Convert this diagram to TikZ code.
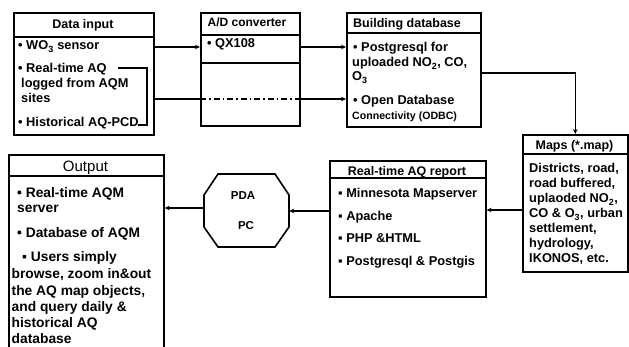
\documentclass[tikz,border=0pt]{standalone}
\usepackage{fontspec}
\setmainfont{Liberation Sans}
\usetikzlibrary{arrows.meta}
\begin{document}
\begin{tikzpicture}[x=1pt,y=-1pt,
  box/.style={draw,line width=1.6pt,rectangle,inner sep=0pt,anchor=north west},
  rule/.style={line width=1.2pt},
  link/.style={line width=1.2pt},
  arr/.style={link,-{Stealth[length=5pt,width=4.5pt]}},
  txt/.style={anchor=base west,inner sep=0pt,font=\fontsize{12.8}{15}\selectfont\bfseries},
  hd/.style={anchor=base,inner sep=0pt,font=\fontsize{12.5}{15}\selectfont\bfseries},
  otxt/.style={anchor=base west,inner sep=0pt,font=\fontsize{13.8}{16}\selectfont\bfseries},
]
\useasboundingbox[fill=white] (0,0) rectangle (629,347);

% ---------- Data input ----------
\node[box,minimum width=140pt,minimum height=122pt] (datain) at (13,12) {};
\draw[rule] (13,37) -- (153,37);
\node[hd] (dinH) at (83,28.5) {Data input};
\node[txt] (din1) at (18,50) {• WO\textsubscript{3} sensor};
\node[txt] (din2) at (18,73) {• Real-time AQ};
\node[txt] (din2b) at (21,88) {logged from AQM};
\node[txt] (din2c) at (21,103) {sites};
\node[txt] (din3) at (18,127) {• Historical AQ-PCD};
\coordinate (brA) at (118,68);
\coordinate (brC) at (147,125);
\coordinate (brD) at (138,125);
\draw[link] (brA) -| (brC) -- (brD);

% ---------- A/D converter ----------
\node[box,minimum width=99pt,minimum height=113pt] (adc) at (200,12) {};
\draw[rule] (200,35) -- (299,35);
\draw[rule] (200,63) -- (299,63);
\node[hd,font=\fontsize{12}{14}\selectfont\bfseries] (adcH) at (247,27) {A/D converter};
\node[txt] (adc1) at (207,48) {• QX108};

% ---------- Building database ----------
\node[box,minimum width=134pt,minimum height=114pt] (bdb) at (346,12) {};
\draw[rule] (346,33) -- (480,33);
\node[txt,font=\fontsize{12.5}{15}\selectfont\bfseries] (bdbH) at (353,28) {Building database};
\node[txt] (bdb1) at (353,52) {• Postgresql for};
\node[txt] (bdb1b) at (352,67) {uploaded NO\textsubscript{2}, CO,};
\node[txt] (bdb1c) at (352,81) {O\textsubscript{3}};
\node[txt] (bdb2) at (353,105) {• Open Database};
\node[txt,font=\fontsize{10.6}{13}\selectfont\bfseries] (bdb2b) at (352,120) {Connectivity (ODBC)};

% ---------- Maps ----------
\node[box,minimum width=105pt,minimum height=137pt] (maps) at (522,134) {};
\draw[rule] (522,154) -- (627,154);
\node[hd] (mapsH) at (574.5,150) {Maps (*.map)};
\node[txt] (m1) at (529,173) {Districts, road,};
\node[txt] (m2) at (529,188) {road buffered,};
\node[txt] (m3) at (529,203) {uplaoded NO\textsubscript{2},};
\node[txt] (m4) at (529,218) {CO \& O\textsubscript{3}, urban};
\node[txt] (m5) at (529,233) {settlement,};
\node[txt] (m6) at (529,248) {hydrology,};
\node[txt] (m7) at (529,263) {IKONOS, etc.};

% ---------- Real-time AQ report ----------
\node[box,minimum width=156pt,minimum height=136pt] (rep) at (329,160) {};
\draw[rule] (329,178) -- (485,178);
\node[hd] (repH) at (407,176) {Real-time AQ report};
\node[txt] (r1) at (338,198) {▪ Minnesota Mapserver};
\node[txt] (r2) at (338,221) {▪ Apache};
\node[txt] (r3) at (338,243) {▪ PHP \&HTML};
\node[txt] (r4) at (338,266) {▪ Postgresql \& Postgis};

% ---------- PDA / PC ----------
\node[minimum width=85pt,minimum height=73pt,inner sep=0pt] (pda) at (246.5,210.5) {};
\draw[line width=1.6pt] (218,174) -- (275,174) -- (289,195) -- (289,227) -- (275,247)
  -- (218,247) -- (204,227) -- (204,195) -- cycle;
\node[hd,font=\fontsize{11.5}{14}\selectfont\bfseries] (pdaT) at (243,200) {PDA};
\node[hd,font=\fontsize{11.5}{14}\selectfont\bfseries] (pcT) at (246,230) {PC};

% ---------- Output ----------
\node[box,minimum width=155pt,minimum height=210pt] (out) at (8,154) {};
\draw[rule] (8,176) -- (163,176);
\node[anchor=base,inner sep=0pt,font=\fontsize{15}{18}\selectfont] (outH) at (85.5,172) {Output};
\node[otxt] (o1) at (17,198) {• Real-time AQM};
\node[otxt] (o1b) at (17,213) {server};
\node[otxt] (o2) at (17,238) {• Database of AQM};
\node[otxt] (o3) at (22,262) {▪ Users simply};
\node[otxt] (o3b) at (11.5,279) {browse, zoom in\&out};
\node[otxt] (o3c) at (11.5,295) {the AQ map objects,};
\node[otxt] (o3d) at (11.5,312) {and query daily \&};
\node[otxt] (o3e) at (11.5,327) {historical AQ};
\node[otxt] (o3f) at (11.5,343) {database};

% ---------- Connectors ----------
\draw[arr] (datain.east |- 0,47) -- (adc.west |- 0,47);
\draw[link] (datain.east |- 0,99) -- (adc.west |- 0,99);
\draw[link,dash pattern=on 6pt off 3pt on 1.5pt off 3pt] (adc.west |- 0,99) -- (adc.east |- 0,99);
\draw[arr] (adc.east |- 0,99) -- (bdb.west |- 0,99);
\draw[arr] (adc.east |- 0,47) -- (bdb.west |- 0,47);
\draw[arr] (bdb.east |- 0,73) -| (maps.north);
\draw[arr] (maps.west |- 0,210) -- (rep.east |- 0,210);
\draw[arr] (rep.west |- 0,211) -- (pda.east |- 0,211);
\draw[arr] (pda.west |- 0,208) -- (out.east |- 0,208);
\end{tikzpicture}
\end{document}
